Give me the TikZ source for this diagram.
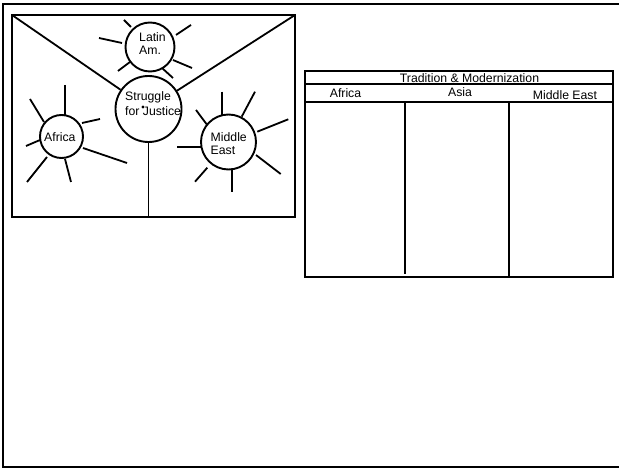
\documentclass[tikz,border=0pt]{standalone}
\usepackage{fontspec}
\setmainfont{Liberation Sans}
\begin{document}
\begin{tikzpicture}[x=1bp,y=-1bp,
  thick line/.style={line width=2bp,line cap=rect},
  sun/.style={circle,draw,line width=1.9bp,inner sep=0pt},
  ray/.style={line width=1.8bp},
  txt/.style={inner sep=0pt,anchor=base west,font=\fontsize{12.3}{14}\selectfont},
  ctxt/.style={inner sep=0pt,anchor=base,font=\fontsize{12.3}{14}\selectfont}]
\useasboundingbox (0,0) rectangle (619,470);
% outer frame
\draw[thick line] (630,4) -- (3,4) -- (3,467) -- (630,467);
% inner box
\draw[thick line] (12,15) rectangle (295,217);
\coordinate (tl) at (12,15);
\coordinate (tr) at (295,15);
\coordinate (bm) at (148.5,217);
% circles
\node[sun,minimum size=66bp] (s) at (148.5,109) {};
\node[sun,minimum size=49bp] (la) at (150,47) {};
\node[sun,minimum size=43bp] (af) at (61.5,136.5) {};
\node[sun,minimum size=55bp] (me) at (228.5,142) {};
% connectors
\draw[ray] (tl) -- (s);
\draw[ray] (tr) -- (s);
\draw[ray] (s.south) -- (bm);
% dot
\fill (143,107) circle (1.7bp);
% texts
\node[txt] (t1) at (125,101) {Struggle};
\node[txt] (t2) at (125,115.5) {for Justice};
\node[txt] (t3) at (139,41.7) {Latin};
\node[txt] (t4) at (139,54.5) {Am.};
\node[txt] (t5) at (44,141.7) {Africa};
\node[txt] (t6) at (210.5,141.7) {Middle};
\node[txt] (t7) at (210.5,154.5) {East};
% Latin Am. rays
\draw[ray] (124,20) -- (131,27);
\draw[ray] (99,38) -- (122,43);
\draw[ray] (118,71) -- (130,62);
\draw[ray] (162,68) -- (173,78);
\draw[ray] (173,60) -- (192,68);
\draw[ray] (176,35) -- (191,25);
% Africa rays
\draw[ray] (65,85) -- (65,115);
\draw[ray] (30,99) -- (44,122);
\draw[ray] (82,123) -- (100,119);
\draw[ray] (26,146) -- (40,140);
\draw[ray] (83,148) -- (127,163);
\draw[ray] (27,182) -- (47,157);
\draw[ray] (65,159) -- (71,182);
% Middle East rays
\draw[ray] (221.7,91.7) -- (221.7,115);
\draw[ray] (196,110) -- (206.7,124.3);
\draw[ray] (241.7,116.7) -- (255,91.7);
\draw[ray] (257.3,131.7) -- (288.3,119.3);
\draw[ray] (177.3,147.3) -- (200.7,147.3);
\draw[ray] (256,155) -- (280.7,174);
\draw[ray] (195,181.7) -- (207.3,167.7);
\draw[ray] (232,170) -- (232,192);
% table
\draw[thick line] (305,71) rectangle (613,277);
\draw[thick line] (305,84) -- (613,84);
\draw[thick line] (305,102) -- (611,102);
\draw[thick line] (405,104) -- (405,273);
\draw[thick line] (509,102) -- (509,277);
\node[ctxt] (h0) at (469.5,82.5) {Tradition \& Modernization};
\node[ctxt] (h1) at (345.5,97.3) {Africa};
\node[ctxt] (h2) at (460,96.7) {Asia};
\node[ctxt] (h3) at (565,99.3) {Middle East};
\end{tikzpicture}
\end{document}
